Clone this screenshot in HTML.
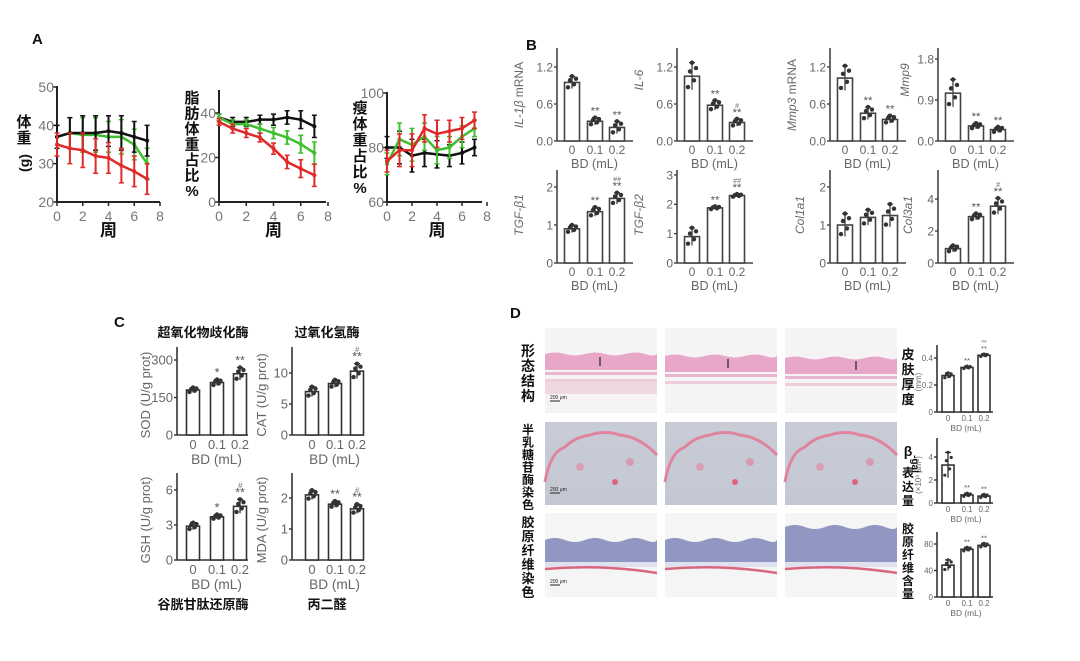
<!DOCTYPE html>
<html><head><meta charset="utf-8">
<style>
html,body{margin:0;padding:0;background:#fff;}
svg{display:block;font-family:"Liberation Sans","Noto Sans CJK SC",sans-serif;}
</style></head>
<body>
<svg id="fig" width="1080" height="661" viewBox="0 0 1080 661" xmlns="http://www.w3.org/2000/svg">
<defs>
<linearGradient id="bgBlue" x1="0" y1="0" x2="0" y2="1"><stop offset="0" stop-color="#c9ccd6"/><stop offset="1" stop-color="#c3c8d4"/></linearGradient>
</defs>
<g id="layer"></g>
</svg>
<script>
// ---------- Panel A data ----------
const weeks = [0,1,2,3,4,5,6,7];
const bwBlack = [37,38,38,38,38.5,38,37,36];
const bwGreen = [37,38,37.5,37.5,37,37,35,30];
const bwRed   = [35,34,33.5,32,31.5,29.5,28,26];
const bwErr   = [3,4,4.5,4.5,4,4.5,4,4];
const fatBlack = [38,36,36,37,37,38,37,34];
const fatGreen = [38,35,35,33,31,29,26,22];
const fatRed   = [36,33,31,29,24,18,15,12];
const fatErr   = [1.5,2,2,2,2.5,3,4,5];
const leanBlack = [80,80,77,78,77.5,77,78,80];
const leanGreen = [74,83,81,84,79,80,84,87];
const leanRed   = [75,79,79,87,85,86,87,90];
const leanErr   = [4,6,6,5,5,4,4,3];
// ---------- Panel B data ----------
const doses = ["0","0.1","0.2"];
const il1bVals=[0.95,0.32,0.22], il1bErr=[0.1,0.06,0.1];
const il6Vals=[1.05,0.58,0.3], il6Err=[0.22,0.08,0.06];
const mmp3Vals=[1.02,0.45,0.35], mmp3Err=[0.2,0.1,0.06];
const mmp9Vals=[1.05,0.33,0.25], mmp9Err=[0.3,0.06,0.06];
const tgfb1Vals=[0.9,1.35,1.7], tgfb1Err=[0.1,0.12,0.15];
const tgfb2Vals=[0.9,1.88,2.3], tgfb2Err=[0.3,0.05,0.05];
const col1Vals=[1.0,1.2,1.25], col1Err=[0.3,0.2,0.3];
const col3Vals=[0.9,2.9,3.55], col3Err=[0.2,0.2,0.5];
// ---------- Panel C data ----------
const sodVals=[180,210,245], sodErr=[10,12,25];
const catVals=[7,8.3,10.3], catErr=[0.8,0.6,1.2];
const gshVals=[2.9,3.7,4.6], gshErr=[0.3,0.2,0.6];
const mdaVals=[2.1,1.8,1.65], mdaErr=[0.15,0.1,0.15];
// ---------- Panel D data ----------
const thickVals=[0.27,0.33,0.42], thickErr=[0.02,0.01,0.01];
const galVals=[3.3,0.7,0.6], galErr=[1.1,0.15,0.15];
const colContVals=[48,72,78], colContErr=[8,3,3];

const NS="http://www.w3.org/2000/svg";
const layer=document.getElementById('layer');
function mk(tag,attrs,parent,txt){const e=document.createElementNS(NS,tag);for(const k in attrs)e.setAttribute(k,attrs[k]);if(txt!==undefined)e.textContent=txt;(parent||layer).appendChild(e);return e;}
function vtext(chars,x,y0,dy,size,name,parent){
  const g=mk('g',{},parent);
  
  
  for(let i=0;i<chars.length;i++){
    mk('text',{x:x,y:y0+i*dy,'font-size':size,'font-weight':'bold','text-anchor':'middle',fill:'#111'},g,chars[i]);
  }
  return g;
}

// panel letters
[['A',32,44],['B',526,50],['C',114,327],['D',510,318]].forEach(p=>{
  const t=mk('text',{x:p[1],y:p[2],'font-size':15,'font-weight':'bold',fill:'#111'},layer,p[0]);
  
  
});

// ---------- line charts ----------
function lineChart(c){
  const g=mk('g',{});
  
  
  const X=w=>c.x0+w*(c.x8-c.x0)/8;
  const Y=v=>c.base-(v-c.ymin)*(c.base-c.ytop)/(c.ymax-c.ymin);
  mk('line',{x1:c.x0,y1:c.axTop,x2:c.x0,y2:c.base,stroke:'#222','stroke-width':2},g);
  mk('line',{x1:c.x0,y1:c.base,x2:c.xEnd,y2:c.base,stroke:'#222','stroke-width':2},g);
  c.yticks.forEach(v=>{mk('line',{x1:c.x0-4,y1:Y(v),x2:c.x0,y2:Y(v),stroke:'#222','stroke-width':1.5},g);
    mk('text',{x:c.x0-3,y:Y(v)+5,'font-size':14,'text-anchor':'end',fill:'#777'},g,String(v));});
  c.xticks.forEach(v=>{mk('line',{x1:X(v),y1:c.base,x2:X(v),y2:c.base+4,stroke:'#222','stroke-width':1.5},g);
    mk('text',{x:X(v),y:c.base+19,'font-size':14,'text-anchor':'middle',fill:'#777'},g,String(v));});
  c.series.forEach(s=>{
    const sg=mk('g',{},g);
    
    
    weeks.forEach((w,i)=>{const e=c.err[i];
      mk('line',{x1:X(w),y1:Y(s.v[i]-e),x2:X(w),y2:Y(s.v[i]+e),stroke:s.col,'stroke-width':2},sg);
      mk('line',{x1:X(w)-2.5,y1:Y(s.v[i]+e),x2:X(w)+2.5,y2:Y(s.v[i]+e),stroke:s.col,'stroke-width':1.5},sg);
      mk('line',{x1:X(w)-2.5,y1:Y(s.v[i]-e),x2:X(w)+2.5,y2:Y(s.v[i]-e),stroke:s.col,'stroke-width':1.5},sg);});
    mk('polyline',{points:weeks.map((w,i)=>X(w)+','+Y(s.v[i])).join(' '),fill:'none',stroke:s.col,'stroke-width':2.5},sg);
    weeks.forEach((w,i)=>mk('circle',{cx:X(w),cy:Y(s.v[i]),r:2,fill:s.col},sg));
  });
  const xl=mk('text',{x:(c.x0+c.x8)/2,y:236,'font-size':17,'font-weight':'bold','text-anchor':'middle',fill:'#111'},g,'周');
  
  
}
const gClr='#3fbf2f', rClr='#e02a2a', kClr='#111';
lineChart({name:'body-weight-chart',x0:57,x8:160,xEnd:160,base:202,ytop:87,ymin:20,ymax:50,axTop:86,yticks:[20,30,40,50],xticks:[0,2,4,6,8],err:bwErr,
  series:[{name:'series-green',v:bwGreen,col:gClr},{name:'series-black',v:bwBlack,col:kClr},{name:'series-red',v:bwRed,col:rClr}]});
lineChart({name:'fat-ratio-chart',x0:219,x8:328,xEnd:326,base:202,ytop:113,ymin:0,ymax:40,axTop:90,yticks:[0,20,40],xticks:[0,2,4,6,8],err:fatErr,
  series:[{name:'series-black',v:fatBlack,col:kClr},{name:'series-green',v:fatGreen,col:gClr},{name:'series-red',v:fatRed,col:rClr}]});
lineChart({name:'lean-ratio-chart',x0:387,x8:487,xEnd:482,base:202,ytop:93,ymin:60,ymax:100,axTop:92,yticks:[60,80,100],xticks:[0,2,4,6,8],err:leanErr,
  series:[{name:'series-black',v:leanBlack,col:kClr},{name:'series-green',v:leanGreen,col:gClr},{name:'series-red',v:leanRed,col:rClr}]});
vtext(['体','重'],24,127,16,15,'y-axis-title-weight');
{const t=mk('text',{x:0,y:0,'font-size':14,'font-weight':'bold','text-anchor':'middle',fill:'#111',transform:'translate(29,163) rotate(-90)'},layer,'(g)');
 }
vtext(['脂','肪','体','重','占','比','%'],192,103,15.5,15,'y-axis-title-fat');
vtext(['瘦','体','重','占','比','%'],360,113,16,15,'y-axis-title-lean');

// ---------- bar charts ----------
const dotOff=[-0.8,0.35,1,-0.3,0.6];
const dotJit=[-4,-2,0,2,4];
function barChart(c){
  const g=mk('g',{});
  
  
  const Y=v=>c.base-v*(c.base-c.tickY)/c.tickV;
  const fs=c.fs||12, col=c.col||'#444';
  mk('line',{x1:c.ax,y1:c.top,x2:c.ax,y2:c.base,stroke:col,'stroke-width':1.6},g);
  mk('line',{x1:c.ax,y1:c.base,x2:c.xEnd,y2:c.base,stroke:col,'stroke-width':1.6},g);
  c.ticks.forEach(v=>{mk('line',{x1:c.ax-3,y1:Y(v),x2:c.ax,y2:Y(v),stroke:col,'stroke-width':1.4},g);
    mk('text',{x:c.ax-4,y:Y(v)+fs*0.36,'font-size':fs,'text-anchor':'end',fill:'#666'},g,c.tickFmt?c.tickFmt(v):String(v));});
  c.vals.forEach((v,i)=>{
    const x=c.xs[i], bw=c.bw||15;
    const b=mk('rect',{x:x-bw/2,y:Y(v),width:bw,height:c.base-Y(v),fill:'#fff',stroke:col,'stroke-width':1.6},g);
    
    
    const e=c.errs[i];
    mk('line',{x1:x,y1:Y(v+e),x2:x,y2:Y(Math.max(0,v-e)),stroke:col,'stroke-width':1.3},g);
    mk('line',{x1:x-3,y1:Y(v+e),x2:x+3,y2:Y(v+e),stroke:col,'stroke-width':1.3},g);
    dotOff.forEach((o,j)=>mk('circle',{cx:x+dotJit[j]*bw/15,cy:Y(v+o*e),r:c.dotR||2.2,fill:'#333'},g));
    if(c.stars&&c.stars[i]){const s=c.stars[i];
      if(s[0])mk('text',{x:x,y:Y(v+e)-3,'font-size':fs*0.95,'text-anchor':'middle',fill:'#555'},g,s[0]);
      if(s[1])mk('text',{x:x,y:Y(v+e)-11,'font-size':fs*0.6,'text-anchor':'middle',fill:'#777','font-style':'italic'},g,s[1]);}
    mk('text',{x:x,y:c.base+fs+1,'font-size':fs,'text-anchor':'middle',fill:'#666'},g,doses[i]);
  });
  if(c.xlabel!==false)mk('text',{x:(c.xs[0]+c.xs[2])/2,y:c.base+fs*2+3,'font-size':fs*1.05,'text-anchor':'middle',fill:'#666'},g,'BD (mL)');
  if(c.ylabel){const t=mk('text',{x:0,y:0,'font-size':fs,'text-anchor':'middle',fill:'#666','font-style':c.italic?'italic':'normal',transform:'translate('+c.ylx+','+c.lyMid+') rotate(-90)'},g);
    c.ylabel.forEach(p=>{mk('tspan',{'font-style':p[1]?'italic':'normal'},t,p[0]);});
    
    }
}
const s2=['**',''];
// B top row
barChart({name:'il1b-chart',ax:557,base:141,tickV:1.2,tickY:67,top:48,xEnd:633,xs:[572,595,617],vals:il1bVals,errs:il1bErr,ticks:[0,0.6,1.2],tickFmt:v=>v.toFixed(1),ylabel:[['IL-1β',1],[' mRNA',0]],ylx:523,lyMid:95,stars:[null,s2,s2]});
barChart({name:'il6-chart',ax:677,base:141,tickV:1.2,tickY:67,top:48,xEnd:753,xs:[692,715,737],vals:il6Vals,errs:il6Err,ticks:[0,0.6,1.2],tickFmt:v=>v.toFixed(1),ylabel:[['IL-6',1]],ylx:643,lyMid:80,stars:[null,s2,['**','#']]});
barChart({name:'mmp3-chart',ax:830,base:141,tickV:1.2,tickY:67,top:48,xEnd:906,xs:[845,868,890],vals:mmp3Vals,errs:mmp3Err,ticks:[0,0.6,1.2],tickFmt:v=>v.toFixed(1),ylabel:[['Mmp3',1],[' mRNA',0]],ylx:796,lyMid:95,stars:[null,s2,s2]});
barChart({name:'mmp9-chart',ax:938,base:141,tickV:1.8,tickY:59,top:48,xEnd:1014,xs:[953,976,998],vals:mmp9Vals,errs:mmp9Err,ticks:[0,0.9,1.8],tickFmt:v=>v.toFixed(1),ylabel:[['Mmp9',1]],ylx:909,lyMid:80,stars:[null,s2,s2]});
// B bottom row
barChart({name:'tgfb1-chart',ax:557,base:263,tickV:2,tickY:187,top:170,xEnd:633,xs:[572,595,617],vals:tgfb1Vals,errs:tgfb1Err,ticks:[0,1,2],ylabel:[['TGF-β1',1]],ylx:523,lyMid:215,stars:[null,s2,['**','##']]});
barChart({name:'tgfb2-chart',ax:677,base:263,tickV:3,tickY:175,top:170,xEnd:753,xs:[692,715,737],vals:tgfb2Vals,errs:tgfb2Err,ticks:[0,1,2,3],ylabel:[['TGF-β2',1]],ylx:643,lyMid:215,stars:[null,s2,['**','##']]});
barChart({name:'col1a1-chart',ax:830,base:263,tickV:2,tickY:187,top:170,xEnd:906,xs:[845,868,890],vals:col1Vals,errs:col1Err,ticks:[0,1,2],ylabel:[['Col1a1',1]],ylx:804,lyMid:215});
barChart({name:'col3a1-chart',ax:938,base:263,tickV:4,tickY:199,top:170,xEnd:1014,xs:[953,976,998],vals:col3Vals,errs:col3Err,ticks:[0,2,4],ylabel:[['Col3a1',1]],ylx:912,lyMid:215,stars:[null,s2,['**','#']]});
// C
barChart({name:'sod-chart',ax:177,base:435,tickV:300,tickY:360,top:347,xEnd:248,bw:13,xs:[193,217,240],vals:sodVals,errs:sodErr,ticks:[0,150,300],ylabel:[['SOD (U/g prot)',0]],ylx:150,lyMid:395,fs:13,col:'#333',stars:[null,['*',''],s2]});
barChart({name:'cat-chart',ax:292,base:435,tickV:10,tickY:373,top:347,xEnd:363,bw:13,xs:[312,335,357],vals:catVals,errs:catErr,ticks:[0,5,10],ylabel:[['CAT (U/g prot)',0]],ylx:266,lyMid:395,fs:13,col:'#333',stars:[null,null,['**','#']]});
barChart({name:'gsh-chart',ax:177,base:560,tickV:6,tickY:490,top:473,xEnd:248,bw:13,xs:[193,217,240],vals:gshVals,errs:gshErr,ticks:[0,3,6],ylabel:[['GSH (U/g prot)',0]],ylx:150,lyMid:520,fs:13,col:'#333',stars:[null,['*',''],['**','#']]});
barChart({name:'mda-chart',ax:292,base:560,tickV:2,tickY:498,top:473,xEnd:363,bw:13,xs:[312,335,357],vals:mdaVals,errs:mdaErr,ticks:[0,1,2],ylabel:[['MDA (U/g prot)',0]],ylx:266,lyMid:520,fs:13,col:'#333',stars:[null,s2,['**','#']]});
[['超氧化物歧化酶',203,337],['过氧化氢酶',327,337],['谷胱甘肽还原酶',203,609],['丙二醛',327,609]].forEach(t=>{
  const e=mk('text',{x:t[1],y:t[2],'font-size':13,'font-weight':'bold','text-anchor':'middle',fill:'#111'},layer,t[0]);
  
  
});
// D small charts
barChart({name:'skin-thickness-chart',ax:937,base:412,tickV:0.4,tickY:358,top:345,xEnd:993,bw:12,dotR:1.6,fs:8,col:'#333',xs:[948,967,984],vals:thickVals,errs:thickErr,ticks:[0,0.2,0.4],tickFmt:v=>v===0?'0':v.toFixed(1),ylabel:[['(mm)',0]],ylx:921,lyMid:382,stars:[null,s2,['**','##']]});
barChart({name:'beta-gal-chart',ax:937,base:503,tickV:4,tickY:457,top:438,xEnd:993,bw:12,dotR:1.6,fs:8,col:'#333',xs:[948,967,984],vals:galVals,errs:galErr,ticks:[0,2,4],ylabel:[['(×10³ μm²)',0]],ylx:921,lyMid:475,stars:[null,s2,s2]});
barChart({name:'collagen-content-chart',ax:937,base:597,tickV:80,tickY:544,top:532,xEnd:993,bw:12,dotR:1.6,fs:8,col:'#333',xs:[948,967,984],vals:colContVals,errs:colContErr,ticks:[0,40,80],stars:[null,s2,s2]});

// D images
const colsX=[545,665,785], rowsY=[[328,85],[422,83],[513,84]];
function img(ci,ri){
  const x=colsX[ci], [y,h]=rowsY[ri], w=112;
  const g=mk('g',{});
  
  
  if(ri===0){
    mk('rect',{x:x,y:y,width:w,height:h,fill:'#f6f3f4'},g);
    const top=y+26+ci*2;
    mk('path',{d:`M${x},${top} q10,-3 20,0 t20,0 t20,0 t20,0 t20,0 t12,0 L${x+w},${top+16} L${x},${top+16}Z`,fill:'#e8a6c8'},g);
    mk('rect',{x:x,y:top+18,width:w,height:3,fill:'#eab6cf'},g);
    mk('rect',{x:x,y:top+25,width:w,height:3,fill:'#eeccdc'},g);
    if(ci===0)mk('rect',{x:x,y:top+28,width:w,height:12,fill:'#f0d8e3'},g);
    mk('line',{x1:x+55+ci*8,y1:top+3,x2:x+55+ci*8,y2:top+12,stroke:'#222','stroke-width':1.2},g);
  } else if(ri===1){
    mk('rect',{x:x,y:y,width:w,height:h,fill:'url(#bgBlue)'},g);
    mk('path',{d:`M${x},${y+60} q5,-30 20,-35 q10,-10 25,-12 q15,-5 30,0 q20,2 37,20`,fill:'none',stroke:'#e0849e','stroke-width':3},g);
    mk('circle',{cx:x+35,cy:y+45,r:4,fill:'#d9a0b4'},g);
    mk('circle',{cx:x+70,cy:y+60,r:3,fill:'#e0607e'},g);
    mk('circle',{cx:x+85,cy:y+40,r:4,fill:'#d99ab0'},g);
  } else {
    mk('rect',{x:x,y:y,width:w,height:h,fill:'#f6f5f6'},g);
    const t=ci===2?y+14:y+27;
    mk('path',{d:`M${x},${t} q10,-4 20,0 t20,0 t20,0 t20,0 t20,0 t12,0 L${x+w},${y+49} L${x},${y+49}Z`,fill:'#8f97c2'},g);
    mk('rect',{x:x,y:y+49,width:w,height:5,fill:'#dfe2ee'},g);
    mk('path',{d:`M${x},${y+56} q56,-5 112,4`,fill:'none',stroke:'#d8667e','stroke-width':2.5},g);
  }
  if(ci===0){mk('line',{x1:x+5,y1:y+h-12,x2:x+15,y2:y+h-12,stroke:'#222','stroke-width':1},g);
    mk('text',{x:x+5,y:y+h-14,'font-size':5,fill:'#222'},g,'200 μm');}
}
for(let r=0;r<3;r++)for(let c=0;c<3;c++)img(c,r);
vtext(['形','态','结','构'],528,356,15,14,'row-label-morphology');
vtext(['半','乳','糖','苷','酶','染','色'],528,434,12.5,12,'row-label-beta-gal-stain');
vtext(['胶','原','纤','维','染','色'],528,527,14,13,'row-label-collagen-stain');
vtext(['皮','肤','厚','度'],908,359,15,13,'skin-thickness-label');
vtext(['β'],908,456,12,14,'beta-label');
vtext(['表','达','量'],908,477,14,12,'beta-gal-expression-label');
vtext(['胶','原','纤','维','含','量'],908,533,13,12,'collagen-content-label');
{const t=mk('text',{x:0,y:0,'font-size':10,'font-weight':'bold','text-anchor':'middle',fill:'#111',transform:'translate(912,464) rotate(90)'},layer,'-gal');
 }
</script>
</body></html>
